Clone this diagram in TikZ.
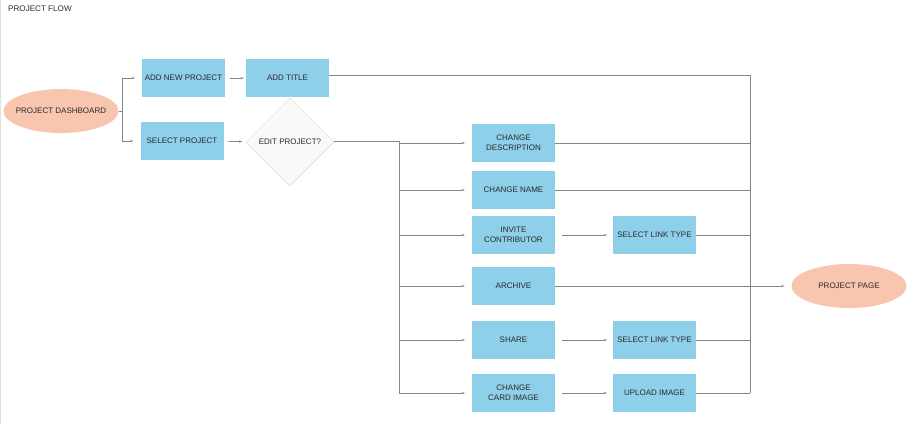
\documentclass[tikz,border=0pt]{standalone}
\usepackage{fontspec}
\setmainfont{Liberation Sans}
\usepackage{tikz}
\usetikzlibrary{positioning,shapes.geometric,arrows.meta}
\definecolor{boxblue}{HTML}{8ECFEA}
\definecolor{ovalpeach}{HTML}{F8C5AE}
\definecolor{linegray}{HTML}{858585}
\definecolor{diafill}{HTML}{F7FAF7}
\definecolor{diaedge}{HTML}{D6DED6}
\definecolor{txtdark}{HTML}{2A2A2A}

\begin{document}
\begin{tikzpicture}[x=1pt,y=-1pt,
  box/.style={rectangle, fill=boxblue, minimum width=83pt, minimum height=38pt,
    inner sep=1pt, align=center, font=\fontsize{8}{9.6}\selectfont, text=txtdark},
  oval/.style={ellipse, fill=ovalpeach, minimum width=115pt, minimum height=44pt,
    inner xsep=-8pt, inner ysep=0pt, font=\fontsize{8}{9.6}\selectfont, text=txtdark},
  decision/.style={diamond, fill=diafill, draw=diaedge, line width=0.5pt,
    minimum width=88pt, minimum height=88pt, inner sep=0pt,
    font=\fontsize{8}{9.6}\selectfont, text=txtdark},
  flow/.style={draw=linegray, line width=0.6pt},
  flowarr/.style={flow, -{Stealth[length=3pt,width=2.2pt]}, shorten >=7pt}]
\useasboundingbox (0,0) rectangle (911,424);
\draw[black!12, line width=0.8pt] (0.5,0) -- (0.5,424);

% title
\node[anchor=west, inner sep=0pt, font=\fontsize{8.1}{9.7}\selectfont, text=txtdark] (title) at (8,9) {PROJECT FLOW};

%====================================================
% LEFT PART
%====================================================
\node[oval] (dashboard) at (61,111) {PROJECT DASHBOARD};
\node[box] (addnew) at (183.5,78) {ADD NEW PROJECT};
\node[box] (addtitle) at (287.5,78) {ADD TITLE};
\node[box] (select) at (182,141) {SELECT PROJECT};
\node[decision] (edit) at (290,142) {EDIT PROJECT?};

\coordinate (split) at (122,111);
\draw[flow] (dashboard.east) -- (split);
\draw[flowarr] (split) |- (addnew.west);
\draw[flowarr] (split) |- (select.west);
\draw[flowarr, shorten <=5pt, shorten >=2pt] (addnew) -- (addtitle);
\draw[flowarr, shorten <=4pt, shorten >=4pt] (select) -- (edit);

%====================================================
% EDIT OPTIONS
%====================================================
\node[box] (descr)   at (513.5,143) {CHANGE\\DESCRIPTION};
\node[box] (rename)  at (513.5,190) {CHANGE NAME};
\node[box] (invite)  at (513.5,235) {INVITE\\CONTRIBUTOR};
\node[box] (archive) at (513.5,286) {ARCHIVE};
\node[box] (share)   at (513.5,340) {SHARE};
\node[box] (cardimg) at (513.5,393) {CHANGE\\CARD IMAGE};

\node[box] (linkA)  at (654.5,235) {SELECT LINK TYPE};
\node[box] (linkB)  at (654.5,340) {SELECT LINK TYPE};
\node[box] (upload) at (654.5,393) {UPLOAD IMAGE};

\node[oval] (page) at (849,286) {PROJECT PAGE};

\coordinate (lbus) at (399,141);
\coordinate (rbus) at (750,75);
\draw[flow] (edit.east |- lbus) -- (lbus) -- (lbus |- cardimg.west);
\foreach \n in {descr,rename,invite,archive,share,cardimg}
  \draw[flowarr] (lbus |- \n.west) -- (\n.west);

\draw[flowarr, shorten <=7pt, shorten >=6pt] (invite) -- (linkA);
\draw[flowarr, shorten <=7pt, shorten >=6pt] (share) -- (linkB);
\draw[flowarr, shorten <=7pt, shorten >=6pt] (cardimg) -- (upload);

% right bus
\draw[flow] (addtitle.east |- rbus) -- (rbus) -- (rbus |- upload.east);
\foreach \n in {descr,rename,linkA,linkB,upload}
  \draw[flow] (\n.east) -- (rbus |- \n.east);
\draw[flowarr] (archive.east) -- (page.west);
\end{tikzpicture}
\end{document}
